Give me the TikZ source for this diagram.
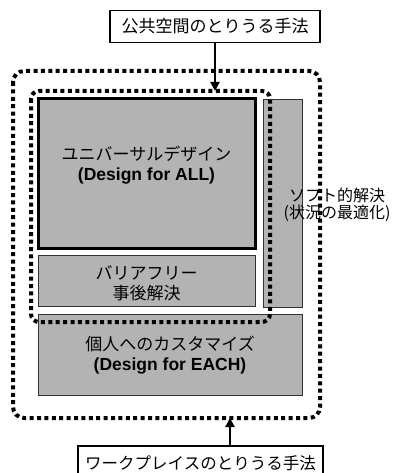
\documentclass[tikz,border=0pt]{standalone}
\usepackage{fontspec}
\setmainfont{Noto Sans CJK JP}
\newfontfamily\latb{Liberation Sans}[BoldFont={Liberation Sans Bold}]
\usetikzlibrary{arrows.meta}
\definecolor{boxgray}{HTML}{B3B3B3}
\tikzset{
  gbox/.style={draw=black!80, fill=boxgray, line width=0.9pt, inner sep=0pt},
  thickbox/.style={gbox, draw=black, line width=3pt},
  labelbox/.style={draw=black, fill=white, line width=1.2pt, inner sep=0pt},
  dotline/.style={draw=black, line width=4pt, dash pattern=on 4pt off 3.4pt},
  txt/.style={align=center, inner sep=0pt, font=\fontsize{17}{20}\selectfont},
  arr/.style={line width=2pt, -{Triangle[length=9pt,width=9pt]}}
}
\newcommand{\lt}[1]{{\latb\bfseries\fontsize{17.5}{20}\selectfont #1}}
\begin{document}
\begin{tikzpicture}[x=1pt,y=-1pt]
\useasboundingbox (0,0) rectangle (392,473);
\clip (0,0) rectangle (392,473);
% boxes
\node[thickbox, minimum width=217pt, minimum height=149pt] (ud) at (146.5,173.5) {};
\node[gbox, minimum width=217pt, minimum height=51pt] (bf) at (146.5,280.5) {};
\node[gbox, minimum width=39pt, minimum height=208pt] (soft) at (282.5,203) {};
\node[gbox, minimum width=264pt, minimum height=81pt] (ind) at (170,354.5) {};
\node[labelbox, minimum width=210pt, minimum height=32pt] (top) at (215,26.5) {};
\node[labelbox, minimum width=245pt, minimum height=40pt] (bot) at (200.5,466) {};
% dotted regions
\draw[dotline, rounded corners=11pt] (13,71) rectangle (320,418);
\draw[dotline, rounded corners=8pt] (31,91) rectangle (270,322);
% arrows
\coordinate (tin) at (215,91);
\coordinate (bout) at (230,418);
\draw[arr] (top.south) -- (tin);
\draw[arr] (bot.north -| bout) -- (bout);
% texts
\node[txt] (udt) at (146.5,165) {ユニバーサルデザイン\\\lt{(Design for ALL)}};
\node[txt] (bft) at (146.5,283) {バリアフリー\\事後解決};
\node[txt] (indt) at (170,355) {個人へのカスタマイズ\\\lt{(Design for EACH)}};
\node[txt, font=\fontsize{16}{17}\selectfont] (softt) at (337,205) {ソフト的解決\\(状況の最適化)};
\node[txt] (topt) at (top.center) {公共空間のとりうる手法};
\node[txt, font=\fontsize{16.5}{20}\selectfont] (bott) at (200.5,463) {ワークプレイスのとりうる手法};
\end{tikzpicture}
\end{document}
